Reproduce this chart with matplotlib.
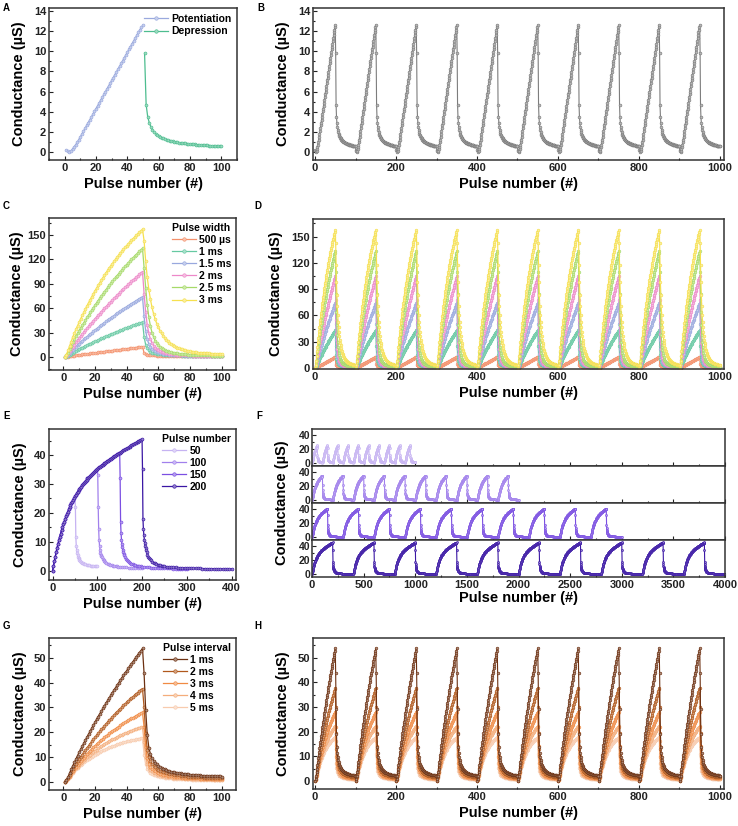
''' Conductance vs pulse number, 8 panels '''
import numpy as np
import matplotlib
matplotlib.use('Agg')
import matplotlib.pyplot as plt
from matplotlib.ticker import MultipleLocator
from matplotlib.colors import to_rgb

plt.rcParams['font.family'] = ['Liberation Sans', 'DejaVu Sans']
plt.rcParams['font.weight'] = 'bold'
plt.rcParams['axes.labelweight'] = 'bold'
plt.rcParams['axes.linewidth'] = 1.1

# ---------------- data ----------------
# A / B : potentiation (pulse 1-50) and depression (pulse 51-100)
a_pot = [0.2, 0.05, 0.0, 0.1, 0.3, 0.5, 0.72, 0.95, 1.23, 1.51,
         1.79, 2.07, 2.35, 2.63, 2.91, 3.19, 3.47, 3.75, 4.03, 4.31,
         4.59, 4.87, 5.15, 5.43, 5.71, 5.99, 6.27, 6.55, 6.83, 7.11,
         7.39, 7.67, 7.95, 8.23, 8.51, 8.79, 9.07, 9.35, 9.63, 9.91,
         10.19, 10.47, 10.75, 11.03, 11.31, 11.59, 11.87, 12.15, 12.4, 12.6]
a_dep = [9.8, 4.7, 3.5, 2.9, 2.5, 2.22, 2.0, 1.83, 1.7, 1.59,
         1.5, 1.42, 1.35, 1.29, 1.23, 1.18, 1.13, 1.09, 1.05, 1.02,
         0.99, 0.96, 0.93, 0.9, 0.88, 0.86, 0.84, 0.82, 0.8, 0.78,
         0.77, 0.75, 0.74, 0.72, 0.71, 0.7, 0.69, 0.68, 0.67, 0.66,
         0.65, 0.64, 0.63, 0.62, 0.61, 0.6, 0.59, 0.58, 0.57, 0.56]
n_cycles = 10

# C / D : pulse width
width_labels = ['500 µs', '1 ms', '1.5 ms', '2 ms', '2.5 ms', '3 ms']
w500_pot = [0, 0.1, 0.4, 0.7, 1, 1.3, 1.6, 1.9, 2.2, 2.5,
            2.8, 3.1, 3.35, 3.6, 3.85, 4.1, 4.35, 4.6, 4.85, 5.1,
            5.35, 5.6, 5.85, 6.1, 6.35, 6.6, 6.85, 7.1, 7.35, 7.6,
            7.85, 8.1, 8.35, 8.6, 8.85, 9.1, 9.35, 9.6, 9.85, 10.1,
            10.35, 10.6, 10.85, 11.1, 11.35, 11.6, 11.9, 12.2, 12.5, 12.8]
w500_dep = [5, 3.6, 3, 2.6, 2.35, 2.15, 2, 1.9, 1.8, 1.72,
            1.65, 1.6, 1.55, 1.5, 1.46, 1.42, 1.39, 1.36, 1.33, 1.3,
            1.28, 1.26, 1.24, 1.22, 1.2, 1.18, 1.16, 1.15, 1.13, 1.12,
            1.1, 1.09, 1.08, 1.07, 1.06, 1.05, 1.04, 1.03, 1.02, 1.01,
            1, 0.99, 0.98, 0.97, 0.96, 0.95, 0.94, 0.93, 0.92, 0.91]
w1_pot = [0, 0.6, 1.6, 2.9, 4, 5.2, 6.3, 7.4, 8.4, 9.5,
          10.6, 11.6, 12.5, 13.5, 14.5, 15.4, 16.4, 17.4, 18.3, 19.2,
          20.1, 21, 21.9, 22.8, 23.7, 24.6, 25.4, 26.3, 27.1, 27.9,
          28.7, 29.6, 30.4, 31.2, 32, 32.8, 33.6, 34.4, 35.1, 35.9,
          36.6, 37.4, 38.1, 38.8, 39.5, 40.2, 40.9, 41.6, 42.3, 43]
w1_dep = [25, 15, 10.5, 8, 6.5, 5.5, 4.8, 4.3, 3.9, 3.6,
          3.35, 3.15, 2.95, 2.8, 2.65, 2.52, 2.4, 2.3, 2.2, 2.12,
          2.04, 1.97, 1.9, 1.84, 1.78, 1.73, 1.68, 1.63, 1.59, 1.55,
          1.51, 1.48, 1.45, 1.42, 1.39, 1.36, 1.33, 1.31, 1.29, 1.27,
          1.25, 1.23, 1.21, 1.19, 1.17, 1.15, 1.14, 1.13, 1.12, 1.1]
w15_pot = [0, 1, 2.8, 4.9, 6.9, 8.9, 10.8, 12.7, 14.5, 16.4,
           18.2, 19.9, 21.6, 23.3, 25, 26.6, 28.3, 29.9, 31.4, 33.1,
           34.6, 36.2, 37.7, 39.3, 40.7, 42.3, 43.7, 45.2, 46.7, 48.1,
           49.5, 50.9, 52.3, 53.7, 55.1, 56.4, 57.7, 59.1, 60.4, 61.7,
           63, 64.3, 65.5, 66.8, 68, 69.2, 70.4, 71.6, 72.8, 74]
w15_dep = [50, 32, 22, 16, 12.5, 10, 8.4, 7.2, 6.3, 5.6,
           5, 4.55, 4.15, 3.8, 3.5, 3.25, 3.05, 2.85, 2.7, 2.55,
           2.42, 2.3, 2.2, 2.1, 2, 1.92, 1.85, 1.78, 1.72, 1.66,
           1.6, 1.55, 1.5, 1.46, 1.42, 1.38, 1.34, 1.31, 1.28, 1.25,
           1.22, 1.19, 1.17, 1.15, 1.13, 1.11, 1.09, 1.07, 1.05, 1.03]
w2_pot = [0, 1.5, 4, 7, 9.8, 12.6, 15.3, 18, 20.6, 23.2,
          25.8, 28.2, 30.6, 33, 35.4, 37.7, 40.1, 42.4, 44.6, 46.9,
          49.1, 51.3, 53.5, 55.7, 57.8, 60, 62, 64.1, 66.2, 68.2,
          70.2, 72.2, 74.2, 76.2, 78.1, 80, 81.9, 83.8, 85.7, 87.5,
          89.3, 91.2, 92.9, 94.7, 96.5, 98.2, 99.9, 101.6, 103.3, 105]
w2_dep = [78, 55, 39, 29, 22, 17.5, 14, 11.6, 9.8, 8.4,
          7.3, 6.5, 5.8, 5.2, 4.7, 4.3, 3.95, 3.65, 3.4, 3.18,
          2.98, 2.8, 2.65, 2.52, 2.4, 2.29, 2.19, 2.1, 2.02, 1.95,
          1.88, 1.82, 1.76, 1.71, 1.66, 1.62, 1.58, 1.54, 1.5, 1.47,
          1.44, 1.41, 1.38, 1.35, 1.33, 1.31, 1.29, 1.27, 1.25, 1.23]
w25_pot = [0, 2, 5.5, 9.5, 13.5, 18, 22, 25.6, 29, 32.4,
           35.8, 39, 42.3, 45.5, 48.6, 51.7, 54.8, 57.8, 60.7, 63.7,
           66.5, 69.4, 72.2, 74.9, 77.6, 80.3, 82.9, 85.5, 88, 90.6,
           93, 95.5, 97.9, 100.2, 102.6, 104.9, 107.1, 109.3, 111.5, 113.7,
           115.8, 117.9, 120, 122, 124, 126, 127.9, 129.9, 131.8, 133.6]
w25_dep = [110, 85, 64, 49, 38, 30, 24.5, 20.2, 17, 14.5,
           12.5, 10.9, 9.6, 8.6, 7.7, 7, 6.4, 5.9, 5.45, 5.05,
           4.7, 4.4, 4.15, 3.9, 3.7, 3.5, 3.33, 3.17, 3.02, 2.89,
           2.77, 2.66, 2.56, 2.47, 2.38, 2.3, 2.23, 2.16, 2.1, 2.04,
           1.98, 1.93, 1.88, 1.83, 1.79, 1.75, 1.71, 1.67, 1.64, 1.61]
w3_pot = [0, 3, 8, 13.5, 19, 24.5, 29.4, 34, 38.4, 42.7,
          47, 51.1, 55.2, 59.2, 63.1, 66.9, 70.6, 74.2, 77.8, 81.3,
          84.7, 88, 91.3, 94.5, 97.6, 100.6, 103.6, 106.6, 109.4, 112.2,
          114.9, 117.6, 120.2, 122.8, 125.3, 127.8, 130.2, 132.5, 134.8, 137,
          139.2, 141.4, 143.5, 145.5, 147.5, 149.5, 151.4, 153.3, 155.2, 157]
w3_dep = [143, 118, 98, 83, 71, 61, 53, 46.5, 41, 36.5,
          32.5, 29, 26, 23.5, 21.2, 19.2, 17.5, 16, 14.7, 13.5,
          12.4, 11.5, 10.7, 10, 9.3, 8.7, 8.2, 7.7, 7.3, 6.9,
          6.6, 6.3, 6, 5.7, 5.5, 5.3, 5.1, 4.9, 4.7, 4.6,
          4.4, 4.3, 4.2, 4.1, 4, 3.9, 3.8, 3.7, 3.6, 3.5]
width_pot = [w500_pot, w1_pot, w15_pot, w2_pot, w25_pot, w3_pot]
width_dep = [w500_dep, w1_dep, w15_dep, w2_dep, w25_dep, w3_dep]

# E / F : pulse number. Potentiation read every 2 pulses (0..200)
number_labels = ['50', '100', '150', '200']
e_pot = [0, 1.7, 3.4, 4.9, 6.4, 7.8, 9.2, 10.5, 11.7, 12.8,
         14.0, 15.0, 16.0, 17.0, 17.9, 18.8, 19.6, 20.4, 21.2, 21.9,
         22.6, 23.3, 23.9, 24.5, 25.1, 25.7, 26.2, 26.8, 27.3, 27.8,
         28.2, 28.7, 29.1, 29.6, 30.0, 30.4, 30.8, 31.1, 31.5, 31.9,
         32.2, 32.5, 32.9, 33.2, 33.5, 33.8, 34.1, 34.4, 34.7, 34.9,
         35.2, 35.5, 35.7, 36.0, 36.2, 36.5, 36.7, 37.0, 37.2, 37.4,
         37.7, 37.9, 38.1, 38.3, 38.5, 38.8, 39.0, 39.2, 39.4, 39.6,
         39.8, 40.0, 40.2, 40.4, 40.6, 40.8, 41.0, 41.2, 41.4, 41.6,
         41.8, 42.0, 42.2, 42.4, 42.6, 42.7, 42.9, 43.1, 43.3, 43.5,
         43.7, 43.9, 44.1, 44.2, 44.4, 44.6, 44.8, 45.0, 45.1, 45.3, 45.5]
e_pot_x = np.arange(0, 201, 2)
# pulses after the last potentiation pulse at which the decay was read
dep_steps = np.r_[1:11, 12:21:2, 23:51:3, 55:201:5]
e_dep50 = [22, 11.5, 8.5, 7, 6, 5.3, 4.8, 4.4, 4.05, 3.8,
           3.35, 3.0, 2.75, 2.55, 2.4, 2.2, 2.05, 1.92, 1.82, 1.74,
           1.67, 1.61, 1.56, 1.52, 1.48]
e_dep100 = [33, 22, 14.5, 10.5, 8.5, 7.2, 6.3, 5.6, 5.1, 4.7,
            4.05, 3.6, 3.25, 2.95, 2.72, 2.4, 2.2, 2.02, 1.88, 1.76,
            1.65, 1.56, 1.48, 1.41, 1.35, 1.27, 1.2, 1.14, 1.08, 1.03,
            0.98, 0.94, 0.9, 0.86, 0.83]
e_dep150 = [32, 17, 13, 10.8, 9.3, 8.1, 7.2, 6.5, 5.9, 5.4,
            4.65, 4.1, 3.65, 3.3, 3.0, 2.65, 2.4, 2.2, 2.03, 1.89,
            1.77, 1.67, 1.58, 1.5, 1.43, 1.33, 1.25, 1.18, 1.12, 1.07,
            1.02, 0.98, 0.94, 0.9, 0.87, 0.84, 0.81, 0.78, 0.76, 0.74,
            0.72, 0.7, 0.68, 0.66, 0.65]
e_dep200 = [35, 18, 14.5, 12.3, 10.8, 9.6, 8.6, 7.8, 7.1, 6.5,
            5.6, 4.9, 4.35, 3.9, 3.55, 3.12, 2.8, 2.53, 2.32, 2.14,
            1.99, 1.86, 1.75, 1.65, 1.57, 1.45, 1.35, 1.27, 1.2, 1.14,
            1.09, 1.04, 1.0, 0.96, 0.93, 0.9, 0.87, 0.84, 0.82, 0.8,
            0.78, 0.76, 0.74, 0.72, 0.7, 0.69, 0.67, 0.66, 0.65, 0.64,
            0.63, 0.62, 0.61, 0.6, 0.59]
number_n = [50, 100, 150, 200]
number_dep = [e_dep50, e_dep100, e_dep150, e_dep200]

# G / H : pulse interval
interval_labels = ['1 ms', '2 ms', '3 ms', '4 ms', '5 ms']
i1_pot = [0, 0.8, 2, 3.6, 5, 6.5, 7.8, 9.2, 10.6, 11.9,
          13.2, 14.4, 15.7, 16.9, 18.1, 19.3, 20.5, 21.7, 22.9, 24,
          25.2, 26.3, 27.4, 28.5, 29.6, 30.7, 31.8, 32.8, 33.9, 34.9,
          36, 37, 38, 39, 40, 41, 42, 42.9, 43.9, 44.8,
          45.8, 46.7, 47.6, 48.5, 49.4, 50.3, 51.2, 52.1, 52.9, 53.8]
i1_dep = [43.7, 29, 19, 13.8, 11.2, 9.6, 8.5, 7.7, 7.05, 6.5,
          6.05, 5.65, 5.3, 5, 4.75, 4.52, 4.32, 4.14, 3.98, 3.83,
          3.7, 3.58, 3.47, 3.37, 3.28, 3.19, 3.11, 3.04, 2.97, 2.9,
          2.84, 2.78, 2.73, 2.68, 2.63, 2.58, 2.54, 2.5, 2.46, 2.42,
          2.39, 2.36, 2.33, 2.3, 2.27, 2.24, 2.21, 2.18, 2.16, 2.14]
i2_pot = [0, 0.6, 1.5, 2.7, 3.8, 5.1, 6.2, 7.2, 8.2, 9.1,
          10.1, 11.0, 11.9, 12.8, 13.7, 14.5, 15.4, 16.3, 17.1, 17.9,
          18.7, 19.5, 20.3, 21.1, 21.8, 22.6, 23.3, 24.1, 24.8, 25.5,
          26.2, 26.9, 27.6, 28.2, 28.9, 29.5, 30.1, 30.8, 31.4, 32.0,
          32.6, 33.2, 33.8, 34.3, 34.9, 35.5, 36.0, 36.6, 37.1, 37.6]
i2_dep = [30, 19.5, 13, 10, 8.3, 7.2, 6.4, 5.8, 5.3, 4.9,
          4.55, 4.25, 4, 3.78, 3.58, 3.4, 3.24, 3.1, 2.97, 2.85,
          2.74, 2.64, 2.55, 2.47, 2.39, 2.32, 2.25, 2.19, 2.13, 2.08,
          2.03, 1.98, 1.94, 1.9, 1.86, 1.82, 1.79, 1.76, 1.73, 1.7,
          1.67, 1.64, 1.62, 1.6, 1.58, 1.56, 1.54, 1.52, 1.5, 1.48]
i3_pot = [0, 0.5, 1.4, 2.4, 3.4, 4.4, 5.2, 6.1, 6.9, 7.6,
          8.4, 9.1, 9.8, 10.6, 11.3, 11.9, 12.6, 13.2, 13.9, 14.5,
          15.1, 15.7, 16.3, 16.9, 17.4, 17.9, 18.5, 19.0, 19.5, 20.0,
          20.5, 21.0, 21.4, 21.9, 22.3, 22.8, 23.2, 23.6, 24.0, 24.4,
          24.8, 25.2, 25.6, 25.9, 26.3, 26.7, 27.0, 27.3, 27.7, 28.0]
i3_dep = [22, 14, 9.5, 7.3, 6.1, 5.3, 4.7, 4.25, 3.9, 3.6,
          3.35, 3.13, 2.94, 2.78, 2.63, 2.5, 2.38, 2.27, 2.17, 2.08,
          2, 1.93, 1.86, 1.8, 1.74, 1.69, 1.64, 1.59, 1.55, 1.51,
          1.47, 1.44, 1.41, 1.38, 1.35, 1.32, 1.3, 1.28, 1.26, 1.24,
          1.22, 1.2, 1.18, 1.16, 1.15, 1.14, 1.13, 1.12, 1.11, 1.1]
i4_pot = [0, 0.4, 1.2, 2.1, 3.1, 4.0, 4.75, 5.46, 6.15, 6.82,
          7.47, 8.1, 8.72, 9.31, 9.89, 10.45, 10.99, 11.52, 12.03, 12.53,
          13.01, 13.48, 13.93, 14.37, 14.8, 15.21, 15.61, 16.0, 16.38, 16.75,
          17.11, 17.46, 17.79, 18.12, 18.43, 18.74, 19.04, 19.33, 19.61, 19.88,
          20.15, 20.4, 20.65, 20.89, 21.13, 21.36, 21.58, 21.79, 22.0, 22.2]
i4_dep = [16, 10, 7.2, 5.7, 4.8, 4.2, 3.75, 3.4, 3.12, 2.88,
          2.68, 2.5, 2.35, 2.22, 2.1, 2, 1.9, 1.82, 1.74, 1.67,
          1.61, 1.55, 1.5, 1.45, 1.4, 1.36, 1.32, 1.28, 1.25, 1.22,
          1.19, 1.16, 1.13, 1.11, 1.09, 1.07, 1.05, 1.03, 1.01, 0.99,
          0.97, 0.96, 0.95, 0.94, 0.93, 0.92, 0.91, 0.9, 0.89, 0.88]
i5_pot = [0, 0.4, 1.2, 2.0, 2.9, 3.73, 4.4, 5.03, 5.64, 6.23,
          6.79, 7.33, 7.85, 8.35, 8.83, 9.29, 9.74, 10.16, 10.57, 10.97,
          11.34, 11.71, 12.06, 12.39, 12.71, 13.02, 13.32, 13.6, 13.88, 14.14,
          14.4, 14.64, 14.87, 15.1, 15.31, 15.52, 15.72, 15.91, 16.09, 16.27,
          16.44, 16.6, 16.76, 16.91, 17.06, 17.2, 17.33, 17.46, 17.58, 17.7]
i5_dep = [11, 7, 5.2, 4.2, 3.6, 3.15, 2.82, 2.56, 2.35, 2.18,
          2.03, 1.9, 1.79, 1.69, 1.6, 1.52, 1.45, 1.39, 1.33, 1.28,
          1.23, 1.19, 1.15, 1.11, 1.08, 1.05, 1.02, 0.99, 0.97, 0.95,
          0.93, 0.91, 0.89, 0.87, 0.85, 0.84, 0.83, 0.82, 0.81, 0.8,
          0.79, 0.78, 0.77, 0.76, 0.75, 0.74, 0.73, 0.72, 0.71, 0.7]
interval_pot = [i1_pot, i2_pot, i3_pot, i4_pot, i5_pot]
interval_dep = [i1_dep, i2_dep, i3_dep, i4_dep, i5_dep]

# ---------------- colours ----------------
c_pot, c_dep, c_gray = '#9aa9de', '#4dbd8f', '#7d7d7d'
width_colors = ['#f4916c', '#66c9a2', '#98a8de', '#ed88c9', '#a6da68', '#f6e04e']
number_colors = ['#c6b3f2', '#a180ec', '#7b4fe2', '#3a16a4']
interval_colors = ['#6c3011', '#b0581c', '#f08a43', '#f4ad7b', '#f8cbae']

W, H = 738, 826
fig = plt.figure(figsize=(7.38, 8.26), dpi=100)


def box(l, t, r, b):
    return fig.add_axes([l / W, 1 - b / H, (r - l) / W, (b - t) / H])


def light(c, f=0.45):
    r, g, b = to_rgb(c)
    return (r + (1 - r) * f, g + (1 - g) * f, b + (1 - b) * f)


def trace(ax, x, y, color, label=None, ms=2.1, lw=0.9, z=2):
    ax.plot(x, y, color=color, lw=lw, marker='o', ms=ms, mfc=light(color),
            mec=color, mew=0.45, label=label, zorder=z)


def style(ax, xmaj, ymaj, xlim, ylim, size=8):
    ax.set_xlim(*xlim)
    ax.set_ylim(*ylim)
    ax.xaxis.set_major_locator(MultipleLocator(xmaj))
    ax.xaxis.set_minor_locator(MultipleLocator(xmaj / 2))
    ax.yaxis.set_major_locator(MultipleLocator(ymaj))
    ax.yaxis.set_minor_locator(MultipleLocator(ymaj / 2))
    ax.tick_params(which='both', direction='in', labelsize=size, width=0.8,
                   pad=2, colors='#222222')
    ax.tick_params(which='major', length=3)
    ax.tick_params(which='minor', length=1.6)
    for s in ax.spines.values():
        s.set_color('#333333')


def labels(ax, ylx, xly=-0.11):
    ax.set_xlabel('Pulse number (#)', fontsize=10.5)
    ax.set_ylabel('Conductance (µS)', fontsize=10.5)
    ax.xaxis.set_label_coords(0.5, xly)
    ax.yaxis.set_label_coords(ylx, 0.5)


def leg(ax, title=None):
    ax.legend(frameon=False, fontsize=7.5, title=title,
              title_fontproperties={'weight': 'bold', 'size': 7.5},
              alignment='left', loc='upper right', handlelength=2.3,
              labelspacing=0.2, handletextpad=0.3, borderaxespad=0.25,
              borderpad=0.2, markerscale=1.2)


def tiled(cycle):
    y = np.tile(cycle, n_cycles)
    return np.arange(1, len(y) + 1), y


for letter, px, py in [('A', 3, 3), ('B', 257, 3), ('C', 3, 201), ('D', 254, 201),
                       ('E', 3, 411), ('F', 256, 411), ('G', 3, 621), ('H', 254, 621)]:
    fig.text(px / W, 1 - py / H, letter, fontsize=7, weight='bold', va='top')

# A
ax = box(49, 8, 237, 160)
trace(ax, np.arange(1, len(a_pot) + 1), a_pot, c_pot, 'Potentiation')
trace(ax, np.arange(len(a_pot) + 1, len(a_pot) + len(a_dep) + 1), a_dep, c_dep, 'Depression')
style(ax, 20, 2, (-10, 110), (-0.8, 14.3))
labels(ax, -0.12)
ax.legend(frameon=False, fontsize=7.5, loc='upper right', handlelength=2.3,
          labelspacing=0.25, handletextpad=0.3, borderaxespad=0.15, markerscale=1.2)

# B
ax = box(313, 8, 724, 160)
x, y = tiled(a_pot + a_dep)
trace(ax, x, y, c_gray, ms=2.0, lw=0.8)
style(ax, 200, 2, (-5, 1010), (-0.8, 14.3))
labels(ax, -0.055)

# C
ax = box(49, 218, 236, 370)
for lab, pot, dep, c in zip(width_labels, width_pot, width_dep, width_colors):
    yy = pot + dep
    trace(ax, np.arange(1, len(yy) + 1), yy, c, lab)
style(ax, 20, 30, (-9, 109), (-16, 171))
labels(ax, -0.136)
leg(ax, 'Pulse width')

# D
ax = box(313, 219, 724, 369)
for pot, dep, c in zip(width_pot, width_dep, width_colors):
    x, y = tiled(pot + dep)
    trace(ax, x, y, c, ms=1.9, lw=0.8)
style(ax, 200, 30, (-5, 1010), (-1, 170))
labels(ax, -0.072)

# E
ax = box(49, 429, 236, 580)
for lab, n, dep, c in zip(number_labels, number_n, number_dep, number_colors):
    k = n // 2 + 1
    xx = np.concatenate([e_pot_x[:k], n + dep_steps[:len(dep)]])
    yy = np.concatenate([e_pot[:k], dep])
    trace(ax, xx, yy, c, lab)
style(ax, 100, 10, (-8, 410), (-3.2, 49))
labels(ax, -0.12)
leg(ax, 'Pulse number')

# F : four stacked rows
rows = [(429, 466), (466, 503), (503, 540), (540, 577)]
for i, (n, dep, c) in enumerate(zip(number_n, number_dep, number_colors)):
    ax = box(312, rows[i][0], 725, rows[i][1])
    k = n // 2 + 1
    cx = np.concatenate([e_pot_x[:k], n + dep_steps[:len(dep)]])
    cy = np.concatenate([e_pot[:k], dep])
    xx = np.concatenate([cx + 2 * n * j for j in range(n_cycles)])
    yy = np.tile(cy, n_cycles)
    trace(ax, xx, yy, c, ms=1.5, lw=0.8)
    style(ax, 500, 20, (0, 4000), (-4, 49))
    ax.tick_params(axis='y', labelsize=7.5, pad=1.5)
    if i < 3:
        ax.tick_params(labelbottom=False)
    else:
        ax.set_xlabel('Pulse number (#)', fontsize=10.5)
        ax.xaxis.set_label_coords(0.5, -0.37)
fig.text(282 / W, 1 - 503 / H, 'Conductance (µS)', fontsize=10.5, weight='bold',
         rotation=90, ha='center', va='center')

# G
ax = box(49, 638, 236, 790)
for i, (lab, pot, dep, c) in enumerate(zip(interval_labels, interval_pot, interval_dep, interval_colors)):
    yy = pot + dep
    trace(ax, np.arange(1, len(yy) + 1), yy, c, lab, z=10 - i)
style(ax, 20, 10, (-9, 109), (-3.3, 58))
labels(ax, -0.12)
leg(ax, 'Pulse interval')

# H
ax = box(313, 638, 724, 789)
for i, (pot, dep, c) in enumerate(zip(interval_pot, interval_dep, interval_colors)):
    x, y = tiled(pot + dep)
    trace(ax, x, y, c, ms=1.9, lw=0.8, z=10 - i)
style(ax, 200, 10, (-5, 1010), (-3.3, 58))
labels(ax, -0.055)

fig.savefig('out.png', dpi=100)
